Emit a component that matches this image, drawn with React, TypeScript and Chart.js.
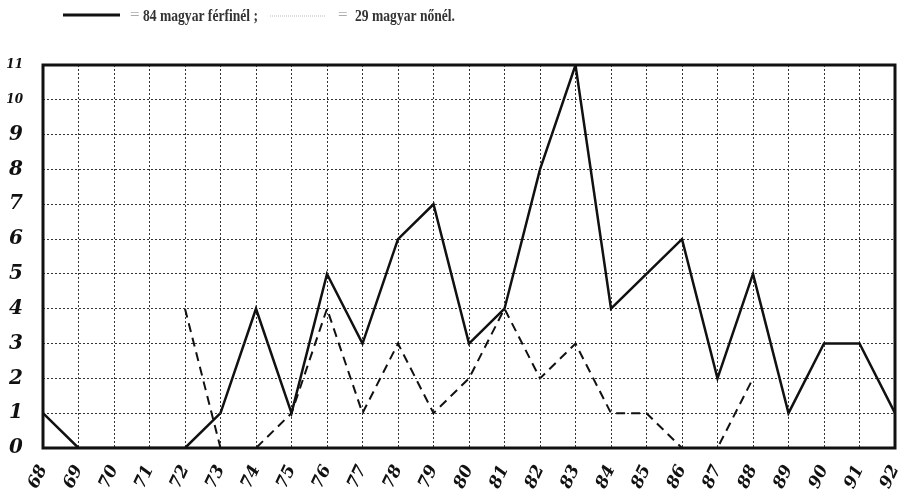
import React, { useEffect, useRef } from "react";
import { Chart, registerables } from "chart.js";
Chart.register(...registerables);

const years = ["68","69","70","71","72","73","74","75","76","77","78","79","80","81","82","83","84","85","86","87","88","89","90","91","92"];
const menValues = [1,0,0,0,0,1,4,1,5,3,6,7,3,4,8,11,4,5,6,2,5,1,3,3,1];
const womenValues: (number | null)[] = [null,null,null,null,4,0,0,1,4,1,3,1,2,4,2,3,1,1,0,0,2,null,null,null,null];
const yTickValues = [0,1,2,3,4,5,6,7,8,9,10,11];
const legendMen = "84 magyar férfinél ;";
const legendWomen = "29 magyar nőnél.";

const framePlugin = {
  id: "frame",
  afterDraw(chart: any) {
    const { ctx, chartArea: a } = chart;
    ctx.save();
    ctx.strokeStyle = "#111";
    ctx.lineWidth = 3;
    ctx.setLineDash([]);
    ctx.strokeRect(a.left, a.top, a.right - a.left, a.bottom - a.top);
    ctx.restore();
  },
};

function drawFitted(ctx: CanvasRenderingContext2D, text: string, x: number, y: number, w: number) {
  const m = ctx.measureText(text).width;
  ctx.save();
  ctx.translate(x, y);
  ctx.scale(w / m, 1);
  ctx.fillText(text, 0, 0);
  ctx.restore();
}

const legendPlugin = {
  id: "topLegend",
  afterDraw(chart: any) {
    const ctx: CanvasRenderingContext2D = chart.ctx;
    ctx.save();
    ctx.strokeStyle = "#111";
    ctx.lineWidth = 3;
    ctx.beginPath();
    ctx.moveTo(63, 15);
    ctx.lineTo(120, 15);
    ctx.stroke();
    ctx.strokeStyle = "#bbb";
    ctx.lineWidth = 1;
    ctx.setLineDash([1, 1]);
    ctx.beginPath();
    ctx.moveTo(270, 16);
    ctx.lineTo(325, 16);
    ctx.stroke();
    ctx.setLineDash([]);
    ctx.textBaseline = "alphabetic";
    ctx.font = "17px 'Liberation Serif', serif";
    ctx.fillStyle = "#aaa";
    ctx.fillText("=", 130, 20);
    ctx.fillText("=", 338, 20);
    ctx.font = "bold 17px 'Liberation Serif', serif";
    ctx.fillStyle = "#333";
    drawFitted(ctx, legendMen, 143, 21, 115);
    drawFitted(ctx, legendWomen, 355, 21, 100);
    ctx.restore();
  },
};

export default function App() {
  const ref = useRef<HTMLCanvasElement>(null);
  useEffect(() => {
    if (!ref.current) return;
    const chart = new Chart(ref.current, {
      type: "line",
      data: {
        labels: years,
        datasets: [
          {
            label: legendMen,
            data: menValues,
            borderColor: "#111",
            borderWidth: 2.5,
            pointRadius: 0,
            tension: 0,
            fill: false,
          },
          {
            label: legendWomen,
            data: womenValues,
            borderColor: "#111",
            borderWidth: 2,
            borderDash: [9, 6],
            pointRadius: 0,
            tension: 0,
            fill: false,
            spanGaps: false,
          },
        ],
      },
      options: {
        responsive: false,
        animation: false,
        devicePixelRatio: 1,
        layout: { padding: { top: 65, right: 8, left: 0, bottom: 0 } },
        plugins: { legend: { display: false }, tooltip: { enabled: false }, title: { display: false } },
        scales: {
          x: {
            type: "category",
            offset: false,
            grid: { color: "#333", lineWidth: 1, drawTicks: false } as any,
            border: { display: false, dash: [2, 2] } as any,
            ticks: {
              color: "#111",
              autoSkip: false,
              minRotation: 65,
              maxRotation: 65,
              padding: 14,
              font: { family: "'DejaVu Serif', serif", size: 17, style: "italic", weight: "bold" },
            },
            afterFit(scale: any) {
              scale.height = 53;
              scale.paddingLeft = 0;
              scale.paddingRight = 0;
            },
          },
          y: {
            min: 0,
            max: 11,
            grid: { color: "#333", lineWidth: 1, drawTicks: false } as any,
            border: { display: false, dash: [2, 2] } as any,
            afterBuildTicks(scale: any) {
              scale.ticks = yTickValues.map((v) => ({ value: v }));
            },
            ticks: {
              color: "#111",
              padding: 20,
              font: (c: any) =>
                c.tick && c.tick.value >= 10
                  ? { family: "'DejaVu Serif', serif", size: 12, style: "italic", weight: "bold" }
                  : { family: "'DejaVu Serif', serif", size: 20, style: "italic", weight: "bold" },
            } as any,
            afterFit(scale: any) {
              scale.width = 43;
              scale.paddingTop = 0;
              scale.paddingBottom = 0;
            },
          },
        },
      } as any,
      plugins: [framePlugin, legendPlugin],
    });
    return () => chart.destroy();
  }, []);
  return (
    <div style={{ position: "fixed", left: 0, top: 0, width: 903, height: 501, background: "#fff" }}>
      <canvas ref={ref} width={903} height={501} style={{ display: "block" }} />
    </div>
  );
}
